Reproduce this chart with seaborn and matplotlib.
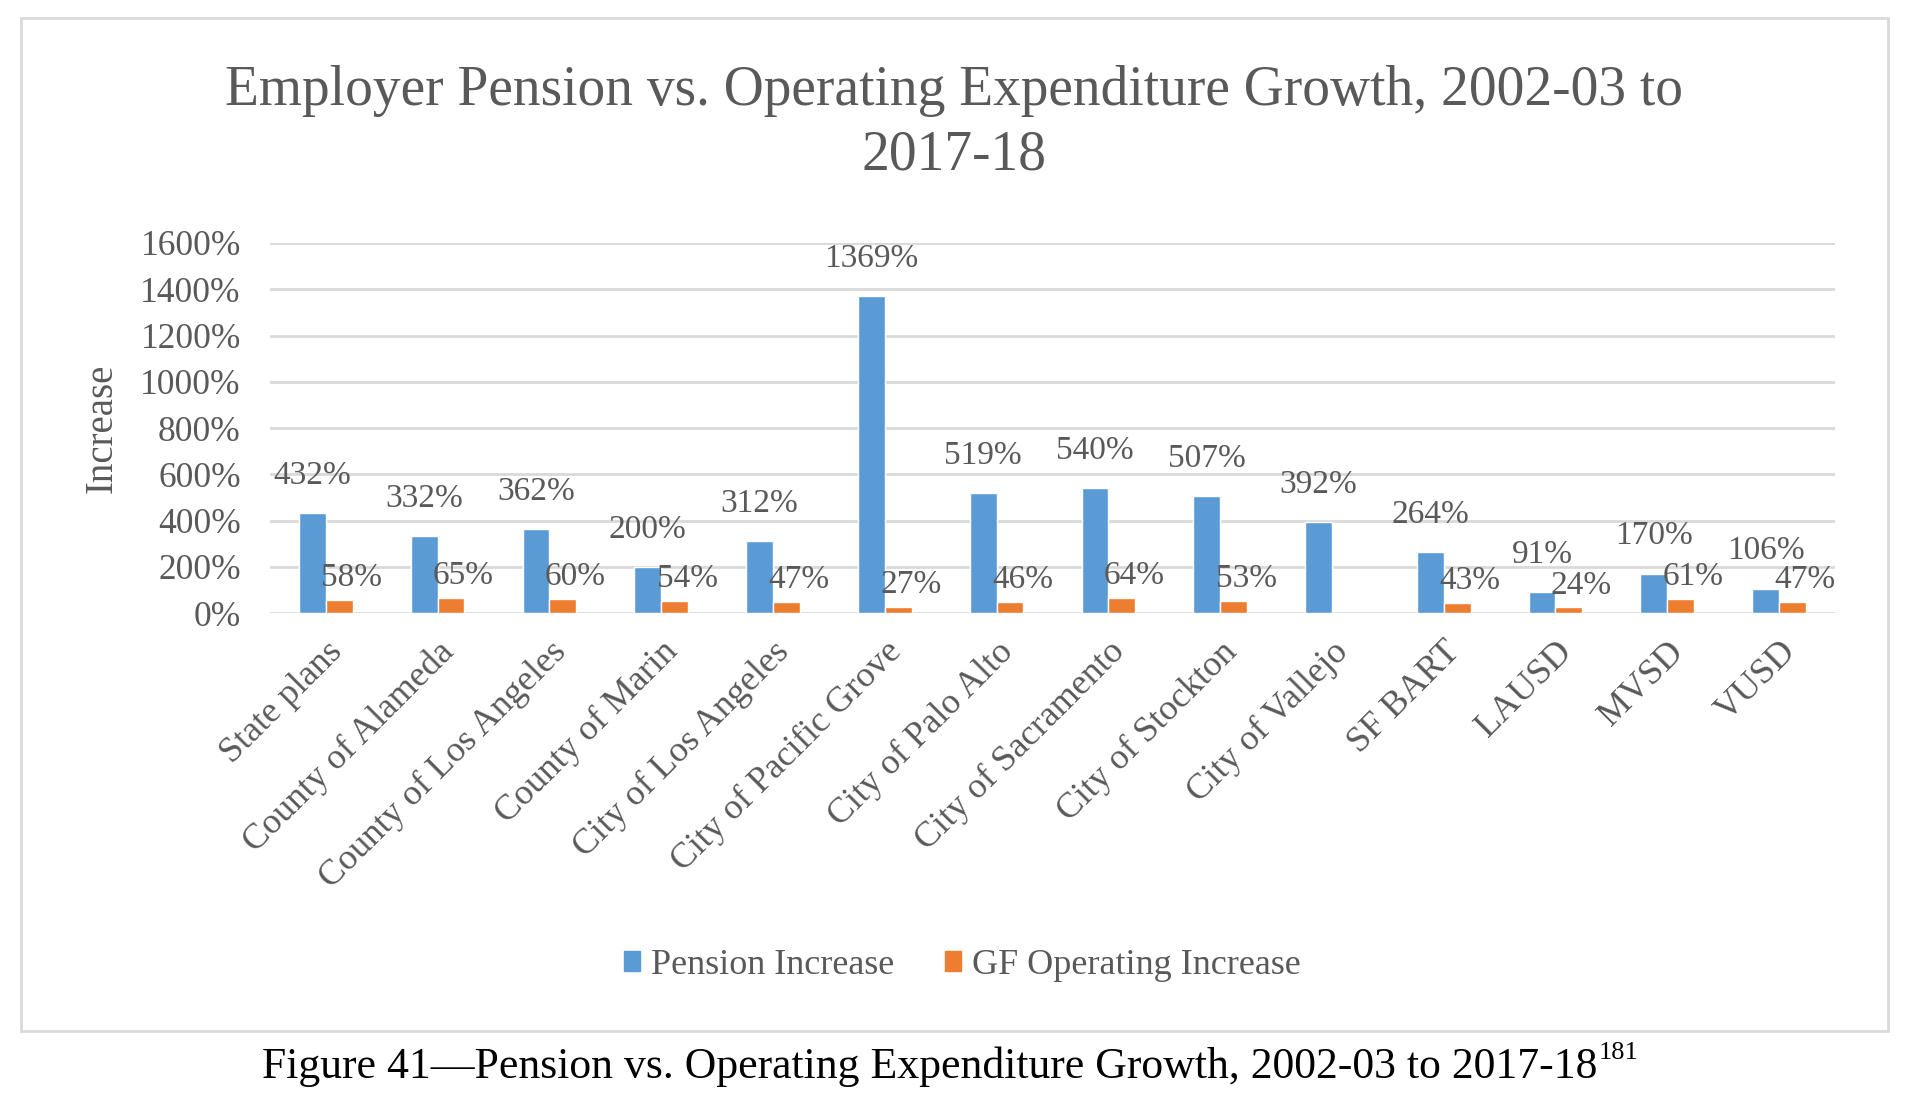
import numpy as np
import pandas as pd
import matplotlib.pyplot as plt
import matplotlib.patches as mpatches
import seaborn as sns

# Chart data
entities = ["State plans", "County of Alameda", "County of Los Angeles", "County of Marin",
            "City of Los Angeles", "City of Pacific Grove", "City of Palo Alto",
            "City of Sacramento", "City of Stockton", "City of Vallejo", "SF BART",
            "LAUSD", "MVSD", "VUSD"]
pension = [432, 332, 362, 200, 312, 1369, 519, 540, 507, 392, 264, 91, 170, 106]
gf_operating = [58, 65, 60, 54, 47, 27, 46, 64, 53, np.nan, 43, 24, 61, 47]
series_names = ["Pension Increase", "GF Operating Increase"]
y_ticks = [0, 200, 400, 600, 800, 1000, 1200, 1400, 1600]

df = pd.DataFrame({
    "Entity": entities * 2,
    "Series": [series_names[0]] * len(entities) + [series_names[1]] * len(entities),
    "Increase": pension + gf_operating,
})

sns.set_style("white")
plt.rcParams["font.family"] = ["Liberation Serif", "DejaVu Serif"]
gray = "#595959"
colors = ["#5B9BD5", "#ED7D31"]

fig = plt.figure(figsize=(19.08, 11.02), dpi=100)
ax = fig.add_axes([0.1415, 0.4437, 0.8202, 0.3358])

sns.barplot(data=df, x="Entity", y="Increase", hue="Series", palette=colors,
            saturation=1, width=0.48, ax=ax)

ax.set_ylim(0, 1600)
ax.set_xlim(-0.5, len(entities) - 0.5)
ax.set_yticks(y_ticks)
ax.set_yticklabels([f"{t}%" for t in y_ticks], fontsize=25.5, color=gray)
ax.yaxis.grid(True, color="#D9D9D9", lw=2)
ax.set_axisbelow(True)
for s in ax.spines.values():
    s.set_visible(False)
ax.tick_params(axis="both", length=0)
ax.tick_params(axis="y", pad=21)
ax.tick_params(axis="x", pad=16)
ax.set_xticks(range(len(entities)))
ax.set_xticklabels(entities, rotation=45, ha="right", rotation_mode="anchor",
                   fontsize=26, color=gray)
ax.set_xlabel("")
ax.set_ylabel("Increase", fontsize=28, color=gray, labelpad=14)

# data labels (read heights from the drawn bars; missing values have no bar)
for cont, off in zip(ax.containers, [(0, 27), (9, 16)]):
    for bar in cont:
        h = bar.get_height()
        if np.isnan(h):
            continue
        x = bar.get_x() + bar.get_width() / 2
        ax.annotate(f"{h:.0f}%", (x, h), xytext=off, textcoords="offset points",
                    ha="center", va="center", fontsize=24, color=gray)

ax.get_legend().remove()
handles = [mpatches.Patch(color=c, label=n) for c, n in zip(colors, series_names)]
fig.legend(handles=handles, loc="center", bbox_to_anchor=(0.5045, 0.124), ncol=2, frameon=False,
           fontsize=26, handlelength=0.45, handleheight=0.45, handletextpad=0.3,
           columnspacing=1.4, labelcolor=gray)

fig.text(0.5, 0.888, "Employer Pension vs. Operating Expenditure Growth, 2002-03 to\n2017-18",
         ha="center", va="center", fontsize=40, color=gray, linespacing=1.3)

# outer chart border
fig.add_artist(mpatches.Rectangle((21 / 1908, 1 - 1031 / 1102), 1867 / 1908, 1013 / 1102,
                                  transform=fig.transFigure, fill=False, ec="#D9D9D9", lw=2))

cap = fig.text(0.487, 0.032, "Figure 41\u2014Pension vs. Operating Expenditure Growth, 2002-03 to 2017-18",
               ha="center", va="center", fontsize=31.5, color="black")
fig.canvas.draw()
bb = cap.get_window_extent().transformed(fig.transFigure.inverted())
fig.text(bb.x1 + 0.001, bb.y1 - 0.006, "181", ha="left", va="center", fontsize=19, color="black")

fig.savefig("out.png", dpi=100)
